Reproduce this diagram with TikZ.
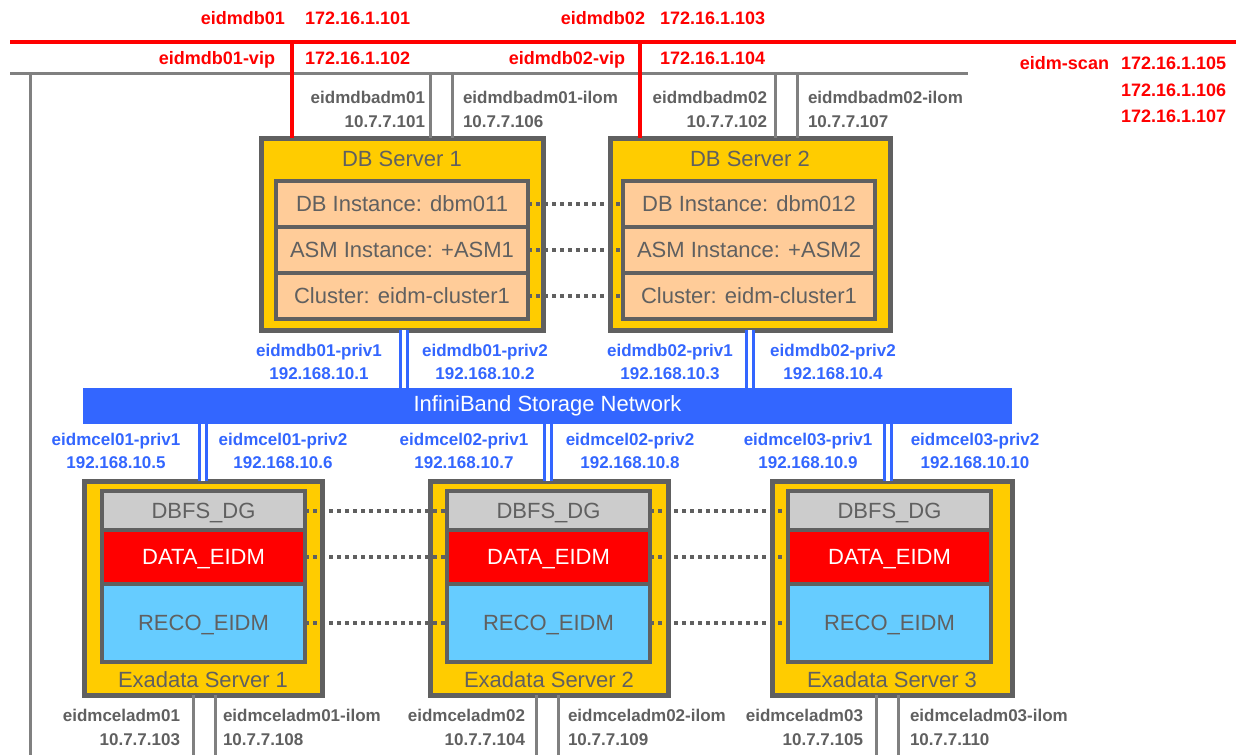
\documentclass[tikz,border=0pt]{standalone}
\usepackage{fontspec}
\setmainfont{Liberation Sans}
\usetikzlibrary{positioning}
\definecolor{dbgold}{RGB}{255,204,0}
\definecolor{boxgray}{RGB}{96,96,96}
\definecolor{linegray}{RGB}{128,128,128}
\definecolor{peach}{RGB}{255,204,153}
\definecolor{ibblue}{RGB}{51,102,255}
\definecolor{recoblue}{RGB}{102,204,255}
\definecolor{dbfsgray}{RGB}{204,204,204}
\definecolor{pubred}{RGB}{255,0,0}

\begin{document}
\begin{tikzpicture}[x=1pt, y=-1pt,
    every node/.style={inner sep=0pt, outer sep=0pt},
    server/.style={draw=boxgray, fill=dbgold, line width=5pt, anchor=north west},
    srvtitle/.style={text=boxgray, font=\fontsize{22}{26}\selectfont,
        text height=15pt, text depth=0pt},
    dbrow/.style={draw=boxgray, fill=peach, line width=4.5pt, text=boxgray,
        minimum width=252pt, minimum height=46pt, font=\fontsize{22}{26}\selectfont,
        text height=15pt, text depth=0pt},
    dgrow/.style={draw=boxgray, line width=4.5pt, text=boxgray,
        minimum width=203pt, font=\fontsize{22}{26}\selectfont,
        text height=15pt, text depth=0pt},
    ibbar/.style={fill=ibblue, text=white, minimum width=929pt, minimum height=36pt,
        font=\fontsize{22}{26}\selectfont},
    publbl/.style={text=pubred, font=\fontsize{18}{24}\selectfont\bfseries,
        text height=13pt, text depth=3.5pt},
    admlbl/.style={text=boxgray, font=\fontsize{17}{24}\selectfont\bfseries},
    privlbl/.style={text=ibblue, align=center, font=\fontsize{17}{23}\selectfont\bfseries},
    publine/.style={draw=pubred, line width=3.5pt},
    admline/.style={draw=linegray, line width=3pt},
    ibline/.style={draw=ibblue, line width=3.5pt, double=white, double distance=3.5pt},
    mirror/.style={draw=boxgray, line width=4pt, dash pattern=on 4pt off 4pt}
]
\useasboundingbox (0,0) rectangle (1236,755);

% networks
\coordinate (pubbus-w) at (10,42);
\coordinate (pubbus-e) at (1236,42);
\coordinate (admbus-w) at (10,73);
\coordinate (admbus-e) at (968,73);
\coordinate (admdrop) at (30,755);
\coordinate (floor) at (0,755);

\node[server, minimum width=282pt, minimum height=192pt] (db1) at (261,138) {};
\node[server, minimum width=280pt, minimum height=192pt] (db2) at (610,138) {};
\node[server, minimum width=238pt, minimum height=214pt] (cel1) at (84,481) {};
\node[server, minimum width=238pt, minimum height=214pt] (cel2) at (430,481) {};
\node[server, minimum width=240pt, minimum height=214pt] (cel3) at (772,481) {};
\node[ibbar] (ib) at (547.5,406) {InfiniBand Storage Network};

\draw[admline] (admbus-w) -- (admbus-e);
\draw[admline] (admbus-w -| admdrop) -- (admdrop);
\draw[admline] ([xshift=169pt]db1.north west) -- ([xshift=169pt]db1.north west |- admbus-w);
\draw[admline] ([xshift=191pt]db1.north west) -- ([xshift=191pt]db1.north west |- admbus-w);
\draw[admline] ([xshift=165pt]db2.north west) -- ([xshift=165pt]db2.north west |- admbus-w);
\draw[admline] ([xshift=187pt]db2.north west) -- ([xshift=187pt]db2.north west |- admbus-w);
\draw[admline] ([xshift=109pt]cel1.south west) -- ([xshift=109pt]cel1.south west |- floor);
\draw[admline] ([xshift=131pt]cel1.south west) -- ([xshift=131pt]cel1.south west |- floor);
\draw[admline] ([xshift=106pt]cel2.south west) -- ([xshift=106pt]cel2.south west |- floor);
\draw[admline] ([xshift=128pt]cel2.south west) -- ([xshift=128pt]cel2.south west |- floor);
\draw[admline] ([xshift=104pt]cel3.south west) -- ([xshift=104pt]cel3.south west |- floor);
\draw[admline] ([xshift=126pt]cel3.south west) -- ([xshift=126pt]cel3.south west |- floor);
\draw[publine] (pubbus-w) -- (pubbus-e);
\draw[publine] ([xshift=31pt]db1.north west) -- ([xshift=31pt]db1.north west |- pubbus-w);
\draw[publine] ([xshift=30pt]db2.north west) -- ([xshift=30pt]db2.north west |- pubbus-w);
\draw[ibline] ([xshift=143pt]db1.south west) -- ([xshift=143pt]db1.south west |- ib.north);
\draw[ibline] ([xshift=140pt]db2.south west) -- ([xshift=140pt]db2.south west |- ib.north);
\draw[ibline] ([xshift=119pt]cel1.north west) -- ([xshift=119pt]cel1.north west |- ib.south);
\draw[ibline] ([xshift=118pt]cel2.north west) -- ([xshift=118pt]cel2.north west |- ib.south);
\draw[ibline] ([xshift=116pt]cel3.north west) -- ([xshift=116pt]cel3.north west |- ib.south);

% database servers
\node[srvtitle] (db1title) at ([yshift=-21pt]db1.north) {DB Server 1};
\node[dbrow, anchor=north west] (db1inst) at ([xshift=15pt, yshift=-43pt]db1.north west) {DB Instance: dbm011};
\node[dbrow, below=0pt of db1inst] (db1asm) {ASM Instance: +ASM1};
\node[dbrow, below=0pt of db1asm] (db1crs) {Cluster: eidm-cluster1};
\node[srvtitle] (db2title) at ([yshift=-21pt]db2.north) {DB Server 2};
\node[dbrow, anchor=north west] (db2inst) at ([xshift=13pt, yshift=-43pt]db2.north west) {DB Instance: dbm012};
\node[dbrow, below=0pt of db2inst] (db2asm) {ASM Instance: +ASM2};
\node[dbrow, below=0pt of db2asm] (db2crs) {Cluster: eidm-cluster1};

% storage cells
\node[dgrow, fill=dbfsgray, minimum height=39pt, anchor=north west] (cel1dbfs) at ([xshift=18pt, yshift=-10pt]cel1.north west) {DBFS\_DG};
\node[dgrow, fill=pubred, text=white, minimum height=54pt, below=0pt of cel1dbfs] (cel1data) {DATA\_EIDM};
\node[dgrow, fill=recoblue, minimum height=78pt, below=0pt of cel1data] (cel1reco) {RECO\_EIDM};
\node[srvtitle] (cel1title) at ([yshift=15pt]cel1.south) {Exadata Server 1};
\node[dgrow, fill=dbfsgray, minimum height=39pt, anchor=north west] (cel2dbfs) at ([xshift=17pt, yshift=-10pt]cel2.north west) {DBFS\_DG};
\node[dgrow, fill=pubred, text=white, minimum height=54pt, below=0pt of cel2dbfs] (cel2data) {DATA\_EIDM};
\node[dgrow, fill=recoblue, minimum height=78pt, below=0pt of cel2data] (cel2reco) {RECO\_EIDM};
\node[srvtitle] (cel2title) at ([yshift=15pt]cel2.south) {Exadata Server 2};
\node[dgrow, fill=dbfsgray, minimum height=39pt, anchor=north west] (cel3dbfs) at ([xshift=16pt, yshift=-10pt]cel3.north west) {DBFS\_DG};
\node[dgrow, fill=pubred, text=white, minimum height=54pt, below=0pt of cel3dbfs] (cel3data) {DATA\_EIDM};
\node[dgrow, fill=recoblue, minimum height=78pt, below=0pt of cel3data] (cel3reco) {RECO\_EIDM};
\node[srvtitle] (cel3title) at ([yshift=15pt]cel3.south) {Exadata Server 3};

\draw[mirror] (db1inst) -- (db2inst);
\draw[mirror] (db1asm) -- (db2asm);
\draw[mirror] (db1crs) -- (db2crs);
\draw[mirror] (cel1dbfs) -- (cel2dbfs);
\draw[mirror] (cel1data) -- (cel2data);
\draw[mirror] (cel1reco) -- (cel2reco);
\draw[mirror] (cel2dbfs) -- (cel3dbfs);
\draw[mirror] (cel2data) -- (cel3data);
\draw[mirror] (cel2reco) -- (cel3reco);

% public labels
\node[publbl, anchor=west] (ip101) at (305,20) {172.16.1.101};
\node[publbl, left=20pt of ip101] (nm101) {eidmdb01};
\node[publbl, anchor=west] (ip102) at (305,60) {172.16.1.102};
\node[publbl, left=30pt of ip102] (nm102) {eidmdb01-vip};
\node[publbl, anchor=west] (ip103) at (660,20) {172.16.1.103};
\node[publbl, left=15pt of ip103] (nm103) {eidmdb02};
\node[publbl, anchor=west] (ip104) at (660,60) {172.16.1.104};
\node[publbl, left=35pt of ip104] (nm104) {eidmdb02-vip};
\node[publbl, anchor=west] (scan1) at (1121,65) {172.16.1.105};
\node[publbl, left=12pt of scan1] (scanname) {eidm-scan};
\node[publbl, below=10pt of scan1] (scan2) {172.16.1.106};
\node[publbl, below=10pt of scan2] (scan3) {172.16.1.107};

% admin labels
\node[admlbl, align=right, anchor=east] (db1adm) at (425,109) {eidmdbadm01\\10.7.7.101};
\node[admlbl, align=left, anchor=west] (db1ilom) at (463,109) {eidmdbadm01-ilom\\10.7.7.106};
\node[admlbl, align=right, anchor=east] (db2adm) at (767,109) {eidmdbadm02\\10.7.7.102};
\node[admlbl, align=left, anchor=west] (db2ilom) at (808,109) {eidmdbadm02-ilom\\10.7.7.107};
\node[admlbl, align=right, anchor=east] (cel1adm) at (180,727) {eidmceladm01\\10.7.7.103};
\node[admlbl, align=left, anchor=west] (cel1ilom) at (223,727) {eidmceladm01-ilom\\10.7.7.108};
\node[admlbl, align=right, anchor=east] (cel2adm) at (525,727) {eidmceladm02\\10.7.7.104};
\node[admlbl, align=left, anchor=west] (cel2ilom) at (568,727) {eidmceladm02-ilom\\10.7.7.109};
\node[admlbl, align=right, anchor=east] (cel3adm) at (863,727) {eidmceladm03\\10.7.7.105};
\node[admlbl, align=left, anchor=west] (cel3ilom) at (910,727) {eidmceladm03-ilom\\10.7.7.110};

% private labels
\node[privlbl] (db1priv1) at (319,362) {eidmdb01-priv1\\192.168.10.1};
\node[privlbl] (db1priv2) at (485,362) {eidmdb01-priv2\\192.168.10.2};
\node[privlbl] (db2priv1) at (670,362) {eidmdb02-priv1\\192.168.10.3};
\node[privlbl] (db2priv2) at (833,362) {eidmdb02-priv2\\192.168.10.4};
\node[privlbl] (cel1priv1) at (116,451) {eidmcel01-priv1\\192.168.10.5};
\node[privlbl] (cel1priv2) at (283,451) {eidmcel01-priv2\\192.168.10.6};
\node[privlbl] (cel2priv1) at (464,451) {eidmcel02-priv1\\192.168.10.7};
\node[privlbl] (cel2priv2) at (630,451) {eidmcel02-priv2\\192.168.10.8};
\node[privlbl] (cel3priv1) at (808,451) {eidmcel03-priv1\\192.168.10.9};
\node[privlbl] (cel3priv2) at (975,451) {eidmcel03-priv2\\192.168.10.10};
\end{tikzpicture}
\end{document}
